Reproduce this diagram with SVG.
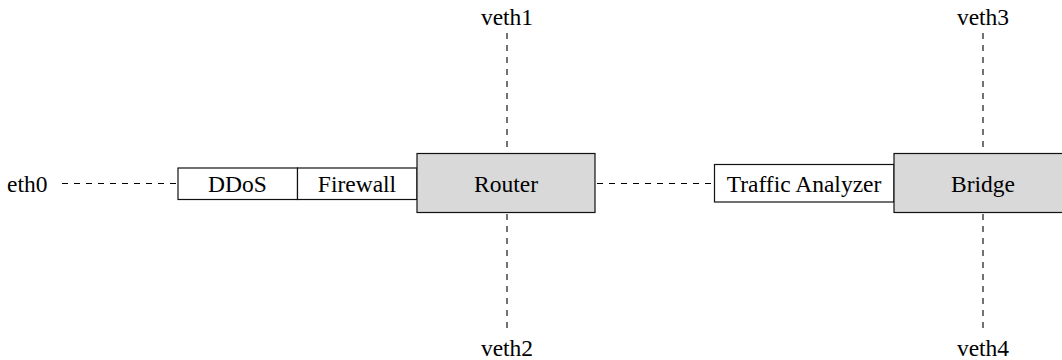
<svg xmlns="http://www.w3.org/2000/svg" width="1062" height="360" viewBox="0 0 1062 360">
  <style>
    .lbl { font-family: "Liberation Serif", "DejaVu Serif", serif; font-size: 23.5px; fill: #000; }
    .mid { text-anchor: middle; }
    .box { fill: #fff; stroke: #111; stroke-width: 1.2; }
    .dev { fill: #d9d9d9; stroke: #111; stroke-width: 1.2; }
    .link { stroke: #000; stroke-width: 1.1; stroke-dasharray: 6 6; fill: none; }
  </style>
  <rect width="1062" height="360" fill="#fff"/>

  <!-- dashed links -->
  <g id="connectors">
    <line class="link" x1="62" y1="183.5" x2="178" y2="183.5"/>
    <line class="link" x1="597" y1="183.5" x2="714" y2="183.5"/>
    <line class="link" x1="507" y1="33" x2="507" y2="153"/>
    <line class="link" x1="507" y1="214" x2="507" y2="334"/>
    <line class="link" x1="983" y1="33" x2="983" y2="153"/>
    <line class="link" x1="983" y1="214" x2="983" y2="334"/>
  </g>

  <g id="eth0"><text class="lbl" x="7" y="191.5">eth0</text></g>
  <g id="veth1"><text class="lbl mid" x="507" y="25">veth1</text></g>
  <g id="veth2"><text class="lbl mid" x="507" y="356">veth2</text></g>
  <g id="veth3"><text class="lbl mid" x="983" y="25">veth3</text></g>
  <g id="veth4"><text class="lbl mid" x="983" y="356">veth4</text></g>

  <g id="ddos">
    <rect class="box" x="178" y="168" width="119.5" height="31.5"/>
    <text class="lbl mid" x="237.5" y="191.5">DDoS</text>
  </g>
  <g id="firewall">
    <rect class="box" x="297.5" y="168" width="119.5" height="31.5"/>
    <text class="lbl mid" x="357" y="191.5">Firewall</text>
  </g>
  <g id="router">
    <rect class="dev" x="417" y="153.5" width="178" height="59"/>
    <text class="lbl mid" x="506" y="191.5">Router</text>
  </g>
  <g id="traffic-analyzer">
    <rect class="box" x="714.5" y="164.5" width="179.5" height="37.5"/>
    <text class="lbl mid" x="804" y="191.5">Traffic Analyzer</text>
  </g>
  <g id="bridge">
    <rect class="dev" x="894" y="153.5" width="178" height="59"/>
    <text class="lbl mid" x="983" y="191.5">Bridge</text>
  </g>
</svg>
